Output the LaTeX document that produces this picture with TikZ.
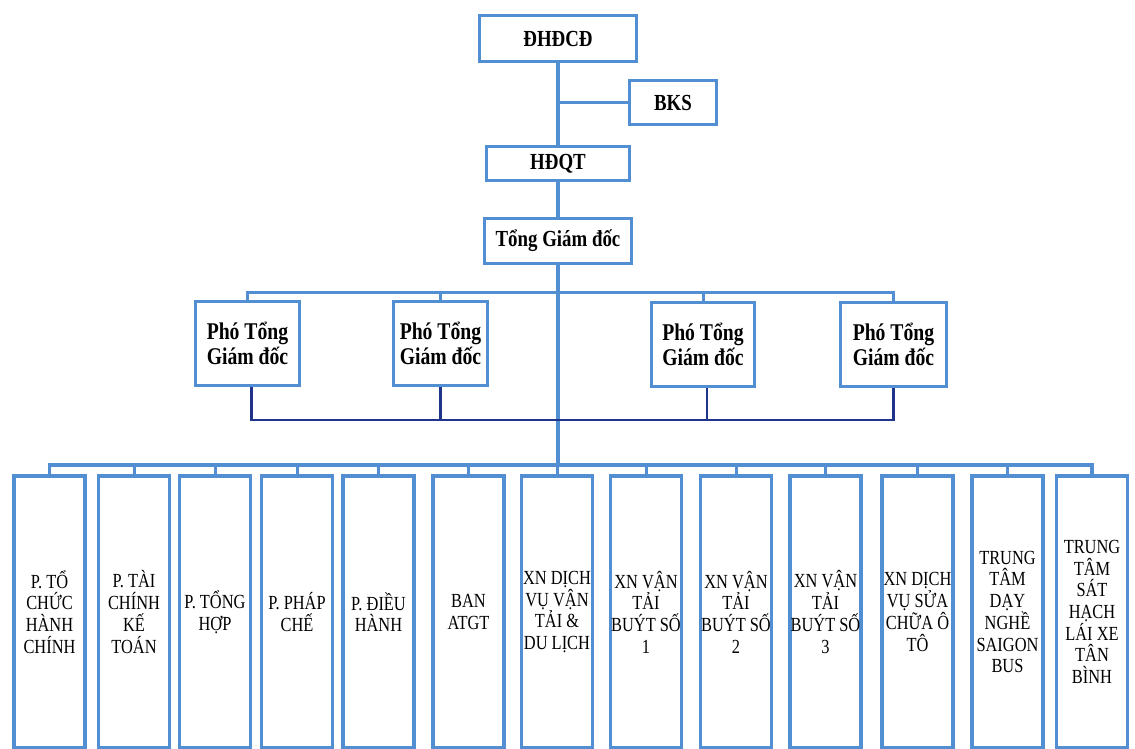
\documentclass[tikz,border=0pt]{standalone}
\usepackage{fontspec}
\setmainfont{Liberation Serif}[FakeStretch=0.82]
\definecolor{boxblue}{RGB}{82,142,210}
\definecolor{navyline}{RGB}{32,52,140}
\tikzset{
  x=1pt, y=-1pt,
  link/.style={draw=boxblue, line width=3.5pt},
  navylink/.style={draw=navyline, line width=2.2pt},
  topbox/.style={draw=boxblue, line width=3.8pt, fill=white, inner sep=0pt, align=center,
     font=\fontsize{23}{25}\selectfont\bfseries},
  deputy/.style={topbox, minimum width=100pt, minimum height=84pt,
     font=\fontsize{24}{25}\selectfont\bfseries},
  unitbox/.style={draw=boxblue, line width=3.8pt, fill=white, inner sep=0pt, align=center,
     minimum width=71pt, minimum height=272pt, font=\fontsize{20}{21.7}\selectfont}
}
\begin{document}
\begin{tikzpicture}
\useasboundingbox[fill=white] (0,0) rectangle (1135,749);
% top chain
\node[topbox, minimum width=157pt, minimum height=46pt] (dhdcd) at (558,38.5) {ĐHĐCĐ};
\node[topbox, minimum width=87pt, minimum height=44pt] (bks) at (673,102.5) {BKS};
\node[topbox, minimum width=143pt, minimum height=34pt] (hdqt) at (558,163.5) {HĐQT};
\node[topbox, minimum width=147pt, minimum height=45pt] (tgd) at (558,241) {Tổng Giám đốc};
% deputies
\node[deputy, minimum width=104pt] (pt1) at (247.5,343.5) {Phó Tổng\\Giám đốc};
\node[deputy, minimum width=94pt] (pt2) at (440.5,343.5) {Phó Tổng\\Giám đốc};
\node[deputy, minimum width=103pt] (pt3) at (703,344.5) {Phó Tổng\\Giám đốc};
\node[deputy, minimum width=106pt] (pt4) at (893.5,344.5) {Phó Tổng\\Giám đốc};
% units
\node[unitbox] (u1) at (49.5,612) {P. TỔ\\CHỨC\\HÀNH\\CHÍNH};
\node[unitbox] (u2) at (134,612) {P. TÀI\\CHÍNH\\KẾ\\TOÁN};
\node[unitbox] (u3) at (215,612) {P. TỔNG\\HỢP};
\node[unitbox] (u4) at (297,612) {P. PHÁP\\CHẾ};
\node[unitbox] (u5) at (378.5,612) {P. ĐIỀU\\HÀNH};
\node[unitbox] (u6) at (468.5,612) {BAN\\ATGT};
\node[unitbox] (u7) at (557,612) {XN DỊCH\\VỤ VẬN\\TẢI \&\\DU LỊCH};
\node[unitbox] (u8) at (646,612) {XN VẬN\\TẢI\\BUÝT SỐ\\1};
\node[unitbox] (u9) at (736,612) {XN VẬN\\TẢI\\BUÝT SỐ\\2};
\node[unitbox] (u10) at (825.5,612) {XN VẬN\\TẢI\\BUÝT SỐ\\3};
\node[unitbox] (u11) at (917.5,612) {XN DỊCH\\VỤ SỬA\\CHỮA Ô\\TÔ};
\node[unitbox] (u12) at (1007.5,612) {TRUNG\\TÂM\\DẠY\\NGHỀ\\SAIGON\\BUS};
\node[unitbox] (u13) at (1092,612) {TRUNG\\TÂM\\SÁT\\HẠCH\\LÁI XE\\TÂN\\BÌNH};
% junction coordinates
\coordinate (busA) at (558,292);
\coordinate (busN) at (558,420);
\coordinate (busB) at (558,465);
% connectors
\draw[link] (dhdcd.south) -- (hdqt.north);
\draw[link] (bks.west) -- (bks.west -| hdqt.north);
\draw[link] (hdqt.south) -- (tgd.north);
\draw[link] (tgd.south) -- (busB);
% deputies bus
\draw[link, line width=3pt] (pt1.north) |- (busA) -| (pt4.north);
\draw[link, line width=3pt] (pt2.north) |- (busA);
\draw[link, line width=3pt] (pt3.north) |- (busA);
% navy bus
\draw[navylink] ([xshift=4pt]pt1.south) |- (busN) -| (pt4.south);
\draw[navylink] (pt2.south) |- (busN);
\draw[navylink] ([xshift=4pt]pt3.south) |- (busN);
% units bus
\draw[link] (u1.north) |- (busB) -| (u13.north);
\foreach \i in {2,...,12} {\draw[link, line width=3pt] (u\i.north) |- (busB);}
\end{tikzpicture}
\end{document}
